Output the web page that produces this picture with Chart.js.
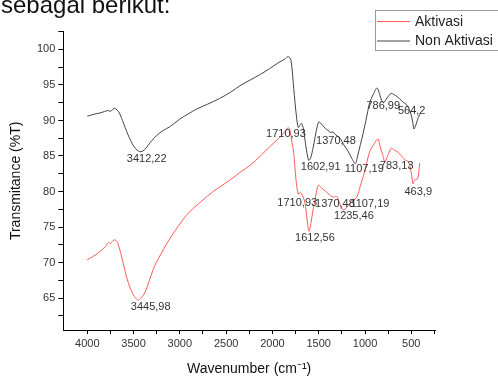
<!DOCTYPE html>
<html>
<head>
<meta charset="utf-8">
<script src="https://cdn.jsdelivr.net/npm/chart.js@4.4.1/dist/chart.umd.min.js"></script>
<style>
  body { margin: 0; background: #fff; }
  canvas { display: block; }
</style>
</head>
<body>
<canvas id="ftir" width="498" height="379"></canvas>
<script>
// wavenumber (cm-1) and transmittance (%T)
const wnNon = [4000, 3920, 3850, 3780, 3750, 3720, 3700, 3660, 3620, 3560, 3500, 3450, 3420, 3380, 3320, 3250, 3180, 3110, 3000, 2900, 2820, 2700, 2570, 2450, 2350, 2240, 2130, 2030, 1940, 1860, 1830, 1800, 1770, 1740, 1720, 1700, 1685, 1665, 1640, 1610, 1590, 1560, 1530, 1500, 1470, 1430, 1400, 1370, 1345, 1320, 1270, 1230, 1180, 1140, 1105, 1080, 1050, 1020, 990, 950, 910, 870, 845, 820, 800, 760, 720, 680, 630, 590, 550, 510, 485, 472, 455, 440, 425, 410, 400];
const tNon = [90.6, 90.9, 91.1, 91.4, 91.3, 91.6, 91.7, 91.2, 90.0, 88.0, 86.4, 85.7, 85.6, 85.9, 86.9, 87.9, 88.6, 89.1, 90.2, 91.0, 91.6, 92.3, 93.1, 94.0, 94.9, 95.7, 96.5, 97.3, 98.1, 98.7, 99.0, 98.5, 94.5, 90.5, 89.0, 89.4, 89.6, 88.8, 86.5, 84.4, 84.6, 86.2, 88.3, 89.8, 89.5, 88.9, 88.6, 88.3, 88.4, 88.0, 87.5, 86.6, 85.6, 84.6, 83.9, 85.0, 86.6, 88.2, 90.0, 92.5, 93.7, 94.6, 93.8, 92.8, 92.5, 93.2, 93.8, 93.6, 93.1, 92.6, 92.2, 91.2, 89.8, 88.8, 89.2, 89.8, 90.4, 90.8, 91.0];

const wnAkt = [4000, 3930, 3860, 3800, 3775, 3750, 3720, 3700, 3670, 3640, 3610, 3575, 3530, 3490, 3450, 3420, 3380, 3350, 3310, 3270, 3200, 3140, 3050, 2950, 2890, 2760, 2640, 2460, 2350, 2240, 2130, 2030, 1930, 1860, 1830, 1810, 1790, 1770, 1745, 1720, 1700, 1685, 1650, 1625, 1605, 1585, 1560, 1540, 1505, 1470, 1415, 1370, 1340, 1305, 1270, 1250, 1235, 1200, 1165, 1130, 1090, 1050, 1000, 950, 900, 860, 840, 810, 785, 750, 715, 680, 640, 600, 560, 530, 500, 482, 470, 455, 430, 410];
const tAkt = [70.4, 70.9, 71.6, 72.3, 72.8, 72.7, 73.1, 73.2, 72.7, 71.4, 69.8, 67.9, 66.2, 65.2, 64.7, 65.0, 65.7, 66.7, 68.2, 69.6, 71.3, 72.7, 74.5, 76.3, 77.2, 78.7, 80.0, 81.6, 82.7, 83.7, 85.0, 86.3, 87.5, 88.5, 89.0, 88.6, 87.0, 85.4, 81.6, 79.6, 79.9, 79.7, 78.5, 76.0, 74.4, 75.5, 77.5, 78.8, 80.9, 80.5, 79.9, 79.4, 79.2, 79.3, 78.2, 77.6, 77.4, 77.7, 78.3, 78.7, 79.2, 80.8, 83.0, 85.6, 86.7, 87.4, 86.5, 85.2, 84.2, 85.2, 86.1, 85.8, 85.5, 84.9, 84.4, 84.2, 82.6, 81.1, 81.4, 81.7, 81.8, 84.0];

// peak labels, placed at (wavenumber, %T)
const peakText = ["3412,22", "1710,93", "1602,91", "1370,48", "1107,19", "786,99", "564,2",
                  "3445,98", "1710,93", "1370,48", "1107,19", "1235,46", "1612,56", "783,13", "463,9"];
const peakWn = [3358, 1854, 1479, 1314, 1008, 803, 496,
                3315, 1732, 1325, 947, 1120, 1541, 658, 425];
const peakT = [84.65, 88.1, 83.5, 87.1, 83.2, 92.0, 91.3,
               63.75, 78.45, 78.3, 78.3, 76.5, 73.5, 83.6, 79.9];

const xTicks = [250, 500, 750, 1000, 1250, 1500, 1750, 2000, 2250, 2500, 2750, 3000, 3250, 3500, 3750, 4000];
const xTickLabels = [500, 1000, 1500, 2000, 2500, 3000, 3500, 4000];
const yTicks = [62.5, 65, 67.5, 70, 72.5, 75, 77.5, 80, 82.5, 85, 87.5, 90, 92.5, 95, 97.5, 100, 102.5];
const yTickLabels = [65, 70, 75, 80, 85, 90, 95, 100];

const seriesNames = ["Aktivasi", "Non Aktivasi"];
const seriesColors = ["#ff5a5a", "#444444"];

const FONT = "'Liberation Sans', Arial, sans-serif";

const toPoints = (xs, ys) => xs.map((x, i) => ({ x: x, y: ys[i] }));

const extras = {
  id: "extras",
  afterDatasetsDraw(chart) {
    const ctx = chart.ctx;
    const xs = chart.scales.x, ys = chart.scales.y;
    ctx.save();
    ctx.fillStyle = "#333";
    ctx.font = "11px " + FONT;
    ctx.textAlign = "center";
    ctx.textBaseline = "middle";
    peakText.forEach((t, i) => {
      ctx.fillText(t, xs.getPixelForValue(peakWn[i]), ys.getPixelForValue(peakT[i]));
    });
    ctx.restore();
  },
  afterDraw(chart) {
    const ctx = chart.ctx;
    ctx.save();
    // heading text from the page above the figure
    ctx.fillStyle = "#111";
    ctx.font = "24px " + FONT;
    ctx.textBaseline = "alphabetic";
    ctx.textAlign = "left";
    ctx.fillText("sebagai berikut:", 1, 13);
    // legend box
    ctx.strokeStyle = "#999";
    ctx.lineWidth = 1;
    ctx.strokeRect(375.5, 10.5, 130, 40);
    ctx.font = "14px " + FONT;
    ctx.textBaseline = "middle";
    seriesNames.forEach((name, i) => {
      const y = 21 + i * 19.5;
      ctx.strokeStyle = seriesColors[i];
      ctx.beginPath();
      ctx.moveTo(377, y + 0.5);
      ctx.lineTo(410, y + 0.5);
      ctx.stroke();
      ctx.fillStyle = "#222";
      ctx.fillText(name, 415, y + 1);
    });
    ctx.restore();
  }
};

new Chart(document.getElementById("ftir"), {
  type: "line",
  data: {
    datasets: [
      { label: seriesNames[0], data: toPoints(wnAkt, tAkt), borderColor: seriesColors[0], borderWidth: 1, pointRadius: 0, tension: 0.3, fill: false },
      { label: seriesNames[1], data: toPoints(wnNon, tNon), borderColor: seriesColors[1], borderWidth: 1, pointRadius: 0, tension: 0.3, fill: false }
    ]
  },
  options: {
    responsive: false,
    animation: false,
    devicePixelRatio: 1,
    layout: { padding: { top: 31.7, right: 63, left: 0, bottom: 0 } },
    plugins: { legend: { display: false }, tooltip: { enabled: false }, title: { display: false } },
    scales: {
      x: {
        type: "linear",
        reverse: true,
        min: 244,
        max: 4259,
        afterBuildTicks: (s) => { s.ticks = xTicks.map(v => ({ value: v })); },
        afterFit: (s) => { s.height = 49; },
        border: { display: true, color: "#000", width: 1 },
        grid: { drawOnChartArea: false, drawTicks: true, tickLength: 4, tickColor: "#000" },
        ticks: {
          autoSkip: false, maxRotation: 0, padding: 3, color: "#333",
          font: { family: FONT, size: 11 },
          callback: (v) => xTickLabels.includes(v) ? String(v) : ""
        },
        title: { display: true, text: "Wavenumber (cm⁻¹)", color: "#111", font: { family: FONT, size: 14 }, padding: { top: 0, bottom: 1 } }
      },
      y: {
        min: 60.5,
        max: 102.5,
        afterBuildTicks: (s) => { s.ticks = yTicks.map(v => ({ value: v })); },
        afterFit: (s) => { s.width = 63.3; },
        border: { display: true, color: "#000", width: 1 },
        grid: { drawOnChartArea: false, drawTicks: true, tickLength: 5, tickColor: "#000" },
        ticks: {
          autoSkip: false, padding: 3, color: "#333",
          font: { family: FONT, size: 11 },
          callback: (v) => yTickLabels.includes(v) ? String(v) : ""
        },
        title: { display: true, text: "Transmitance (%T)", color: "#111", font: { family: FONT, size: 14 }, padding: { top: 7.6, bottom: 0 } }
      }
    }
  },
  plugins: [extras]
});
</script>
</body>
</html>
